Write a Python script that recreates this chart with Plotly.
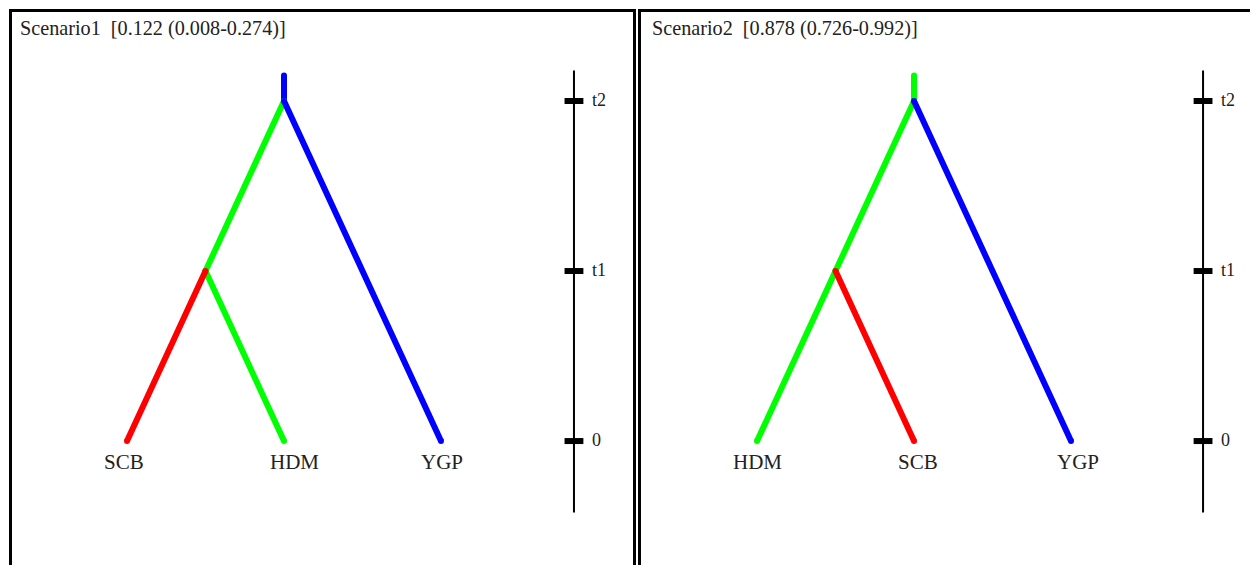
import plotly.graph_objects as go
from plotly.subplots import make_subplots

# ---- data ----
scenario_titles = ["Scenario1  [0.122 (0.008-0.274)]", "Scenario2  [0.878 (0.726-0.992)]"]
leaf_labels_1 = ["SCB", "HDM", "YGP"]
leaf_labels_2 = ["HDM", "SCB", "YGP"]
time_labels = ["0", "t1", "t2"]
time_values = [0, 1, 2]
stem_top = 2.15
axis_span = [-0.42, 2.18]
# branch segments: (from_leafpos, from_time, to_leafpos, to_time, colour)
branches_1 = [
    (1.0, 2, 1.0, stem_top, "#0000ff"),
    (1.0, 2, 0.5, 1, "#00ff00"),
    (0.5, 1, 1.0, 0, "#00ff00"),
    (0.5, 1, 0.0, 0, "#ff0000"),
    (1.0, 2, 2.0, 0, "#0000ff"),
]
branches_2 = [
    (1.0, 2, 1.0, stem_top, "#00ff00"),
    (1.0, 2, 0.5, 1, "#00ff00"),
    (0.5, 1, 0.0, 0, "#00ff00"),
    (0.5, 1, 1.0, 0, "#ff0000"),
    (1.0, 2, 2.0, 0, "#0000ff"),
]
leaf_positions = [0, 1, 2]
time_axis_x = [2.847, 2.841]

# label nudges (style, px)
label_shift_1 = [-3, 10, 1]
label_shift_2 = [0, 4, 7]

# page body has an 8px margin; figure sized to fill the rest of the window
W, H = 1250, 557

fig = make_subplots(rows=1, cols=2, horizontal_spacing=0)

font_family = "Liberation Serif"
text_color = "#222222"

panels = [(branches_1, leaf_labels_1, label_shift_1), (branches_2, leaf_labels_2, label_shift_2)]
for col, (branches, leaves, shifts) in enumerate(panels, start=1):
    tx = time_axis_x[col - 1]
    for (x0, y0, x1, y1, c) in branches:
        fig.add_trace(go.Scatter(x=[x0, x1], y=[y0, y1], mode="lines+markers",
                                 line=dict(color=c, width=6),
                                 marker=dict(color=c, size=6),
                                 hoverinfo="skip", showlegend=False), row=1, col=col)
    # time axis
    fig.add_trace(go.Scatter(x=[tx, tx], y=axis_span, mode="lines",
                             line=dict(color="black", width=2), hoverinfo="skip",
                             showlegend=False), row=1, col=col)
    for tv in time_values:
        fig.add_trace(go.Scatter(x=[tx - 0.06, tx + 0.06], y=[tv, tv],
                                 mode="lines", line=dict(color="black", width=6),
                                 hoverinfo="skip", showlegend=False), row=1, col=col)
    xref = "x" if col == 1 else "x2"
    yref = "y" if col == 1 else "y2"
    for tl, tv in zip(time_labels, time_values):
        fig.add_annotation(x=tx, y=tv, xref=xref, yref=yref, text=tl,
                           showarrow=False, xanchor="left", yanchor="middle",
                           xshift=16, yshift=1,
                           font=dict(family=font_family, size=18, color=text_color))
    for lab, lp, sh in zip(leaves, leaf_positions, shifts):
        fig.add_annotation(x=lp, y=0, xref=xref, yref=yref, text=lab,
                           showarrow=False, xanchor="center", yanchor="middle",
                           xshift=sh, yshift=-21,
                           font=dict(family=font_family, size=21, color=text_color))

fig.update_yaxes(range=[-0.729, 2.547], visible=False, fixedrange=True)
fig.update_layout(xaxis=dict(domain=[0, 0.5], range=[-0.758, 3.223], visible=False, fixedrange=True),
                  xaxis2=dict(domain=[0.5, 1], range=[-0.790, 3.191], visible=False, fixedrange=True))

# titles
for t, px in zip(scenario_titles, [10, 642]):
    fig.add_annotation(x=px / W, y=1 - 20 / H, xref="paper", yref="paper", text=t,
                       showarrow=False, xanchor="left", yanchor="middle",
                       font=dict(family=font_family, size=20.2, color=text_color))

# panel borders
fig.add_shape(type="rect", xref="paper", yref="paper",
              x0=2.5 / W, x1=626.5 / W, y0=-0.05, y1=1 - 2.5 / H,
              line=dict(color="black", width=3))
fig.add_shape(type="rect", xref="paper", yref="paper",
              x0=631.5 / W, x1=1.05, y0=-0.05, y1=1 - 2.5 / H,
              line=dict(color="black", width=3))

fig.update_layout(width=W, height=H, margin=dict(l=0, r=0, t=0, b=0),
                  paper_bgcolor="white", plot_bgcolor="white")

fig.write_html("out.html")
